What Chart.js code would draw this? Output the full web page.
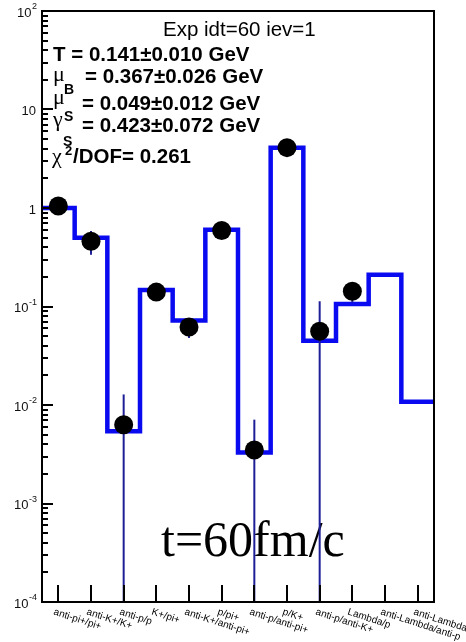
<!DOCTYPE html>
<html>
<head>
<meta charset="utf-8">
<script src="https://cdn.jsdelivr.net/npm/chart.js@4.4.0/dist/chart.umd.min.js"></script>
<style>
html, body { margin: 0; padding: 0; background: #fff; }
#wrap { width: 466px; height: 642px; }
</style>
</head>
<body>
<div id="wrap"><canvas id="ratioChart" width="466" height="642"></canvas></div>
<script>
// particle ratios, one bin each
const ratios = ["anti-pi+/pi+", "anti-K+/K+", "anti-p/p", "K+/pi+", "anti-K+/anti-pi+", "p/pi+",
    "anti-p/anti-pi+", "p/K+", "anti-p/anti-K+", "Lambda/p", "anti-Lambda/anti-p", "anti-Lambda/Lambda"];
// thermal model (blue histogram)
const modelValues = [1.0, 0.50, 0.0054, 0.147, 0.072, 0.60, 0.0033, 4.1, 0.045, 0.106, 0.21, 0.0108];
// "experimental" points and their errors (null = no point)
const dataValues = [1.05, 0.46, 0.0063, 0.14, 0.062, 0.59, 0.0035, 4.1, 0.056, 0.143, null, null];
const dataErrors = [0.06, 0.125, 0.0065, 0.01, 0.014, 0.03, 0.0036, 0.3, 0.057, 0.033, null, null];
// decades shown on the log axis
const yDecades = [-4, -3, -2, -1, 0, 1, 2];
const yMin = 1e-4, yMax = 1e2;

const histPoints = modelValues.map((v, i) => ({ x: i, y: v }));
histPoints.push({ x: ratios.length, y: modelValues[modelValues.length - 1] });

const markerPoints = [];
dataValues.forEach((v, i) => { if (v !== null) markerPoints.push({ x: i + 0.5, y: v, err: dataErrors[i] }); });

const sansFont = '"Liberation Sans", Arial, Helvetica, sans-serif';

function drawDecadeLabel(ctx, exp, xRight, y) {
    ctx.fillStyle = '#111';
    ctx.textBaseline = 'middle';
    if (exp === 0 || exp === 1) {
        ctx.font = '13px ' + sansFont;
        ctx.textAlign = 'right';
        ctx.fillText(exp === 0 ? '1' : '10', xRight - 1, y + 2);
        return;
    }
    ctx.font = '9px ' + sansFont;
    const sup = String(exp);
    const sw = ctx.measureText(sup).width;
    ctx.textAlign = 'left';
    ctx.fillText(sup, xRight - sw, y - 4);
    ctx.font = '13px ' + sansFont;
    ctx.textAlign = 'right';
    ctx.fillText('10', xRight - sw - 0.5, y + 2);
}

const errorBars = {
    id: 'errorBars',
    afterDatasetDraw(chart, args) {
        if (args.index !== 0) return;
        const { ctx, scales: { x, y }, chartArea } = chart;
        ctx.save();
        ctx.strokeStyle = '#1e1e96';
        ctx.lineWidth = 2;
        markerPoints.forEach(p => {
            const px = x.getPixelForValue(p.x);
            const hi = y.getPixelForValue(p.y + p.err);
            const lo = (p.y - p.err) > yMin ? y.getPixelForValue(p.y - p.err) : chartArea.bottom;
            ctx.beginPath();
            ctx.moveTo(px, Math.max(hi, chartArea.top));
            ctx.lineTo(px, lo);
            ctx.stroke();
        });
        ctx.restore();
    }
};

const textLayer = {
    id: 'textLayer',
    beforeDatasetsDraw(chart) {
        const ctx = chart.ctx;
        ctx.save();
        ctx.fillStyle = '#000';
        ctx.textAlign = 'left';
        ctx.textBaseline = 'alphabetic';

        ctx.font = '20.5px ' + sansFont;
        ctx.fillText('Exp idt=60 iev=1', 163, 36);

        const bold = 'bold 20.5px ' + sansFont;
        const greek = '22px "Liberation Serif", "DejaVu Serif", serif';
        const sub = 'bold 14px ' + sansFont;

        ctx.font = bold;
        ctx.fillText('T = 0.141\u00b10.010 GeV', 53, 61);

        ctx.font = greek; ctx.fillText('\u03bc', 53, 81);
        ctx.font = sub; ctx.fillText('B', 64, 94);
        ctx.font = bold; ctx.fillText('= 0.367\u00b10.026 GeV', 85, 83);

        ctx.font = greek; ctx.fillText('\u03bc', 53, 104);
        ctx.font = sub; ctx.fillText('S', 64, 121);
        ctx.font = bold; ctx.fillText('= 0.049\u00b10.012 GeV', 82, 110);

        ctx.font = greek; ctx.fillText('\u03b3', 53, 126);
        ctx.font = sub; ctx.fillText('S', 63, 146);
        ctx.font = bold; ctx.fillText('= 0.423\u00b10.072 GeV', 82, 132);

        ctx.font = greek; ctx.fillText('\u03c7', 52, 163);
        ctx.font = 'bold 13px ' + sansFont; ctx.fillText('2', 65, 155);
        ctx.font = bold; ctx.fillText('/DOF= 0.261', 73, 163);

        ctx.font = '50px "Liberation Serif", "Times New Roman", serif';
        ctx.fillText('t=60fm/c', 161, 556);
        ctx.restore();
    }
};

const frameAndTicks = {
    id: 'frameAndTicks',
    afterDraw(chart) {
        const { ctx, scales: { x, y }, chartArea: a } = chart;
        ctx.save();
        ctx.strokeStyle = '#000';
        ctx.lineWidth = 2;
        ctx.strokeRect(a.left, a.top, a.right - a.left, a.bottom - a.top);

        // y ticks: decades long, 2..9 short, pointing into the frame
        yDecades.forEach(e => {
            for (let m = 1; m <= 9; m++) {
                const v = m * Math.pow(10, e);
                if (v < yMin || v > yMax) continue;
                const py = Math.round(y.getPixelForValue(v));
                ctx.beginPath();
                ctx.moveTo(a.left, py);
                ctx.lineTo(a.left + (m === 1 ? 11 : 6), py);
                ctx.stroke();
            }
            drawDecadeLabel(ctx, e, 37, y.getPixelForValue(Math.pow(10, e)));
        });

        // x ticks at bin centres + rotated ratio names
        ratios.forEach((name, i) => {
            const px = Math.round(x.getPixelForValue(i + 0.5));
            ctx.beginPath();
            ctx.moveTo(px, a.bottom);
            ctx.lineTo(px, a.bottom - 17);
            ctx.stroke();

            ctx.save();
            ctx.translate(px - 2.5, a.bottom + 5);
            ctx.rotate(18 * Math.PI / 180);
            ctx.font = '10px ' + sansFont;
            ctx.fillStyle = '#000';
            ctx.textAlign = 'left';
            ctx.textBaseline = 'top';
            ctx.fillText(name, 0, 0);
            ctx.restore();
        });

        ctx.save();
        ctx.translate(-1, 621);
        ctx.rotate(18 * Math.PI / 180);
        ctx.font = '9px ' + sansFont;
        ctx.fillStyle = '#333';
        ctx.fillText('ML', 0, 0);
        ctx.restore();

        ctx.restore();
    }
};

new Chart(document.getElementById('ratioChart'), {
    type: 'scatter',
    data: {
        datasets: [{
            label: 'model',
            data: histPoints,
            showLine: true,
            stepped: true,
            borderColor: '#0a0af0',
            borderWidth: 4.5,
            pointRadius: 0,
            fill: false,
            order: 2
        }, {
            label: 'data',
            data: markerPoints,
            showLine: false,
            pointRadius: 9.5,
            pointBackgroundColor: '#000',
            pointBorderWidth: 0,
            order: 1
        }]
    },
    options: {
        responsive: false,
        devicePixelRatio: 1,
        animation: false,
        events: [],
        layout: { padding: { top: 11, right: 32, left: 0, bottom: 0 } },
        plugins: { legend: { display: false }, tooltip: { enabled: false } },
        scales: {
            x: {
                type: 'linear', min: 0, max: ratios.length,
                ticks: { display: false }, grid: { display: false }, border: { display: false },
                afterFit: s => { s.height = 40; }
            },
            y: {
                type: 'logarithmic', min: yMin, max: yMax,
                ticks: { display: false }, grid: { display: false }, border: { display: false },
                afterFit: s => { s.width = 42; }
            }
        }
    },
    plugins: [errorBars, textLayer, frameAndTicks]
});
</script>
</body>
</html>
